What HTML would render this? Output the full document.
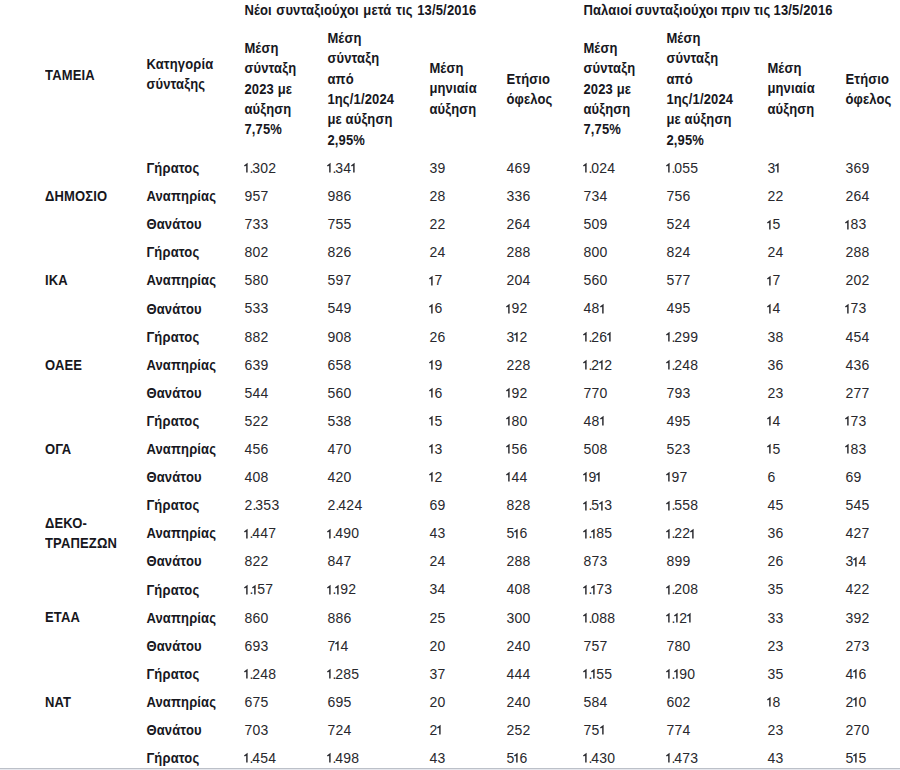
<!DOCTYPE html>
<html><head><meta charset="utf-8">
<style>
html,body{margin:0;padding:0;background:#fff;}
body{width:900px;height:770px;position:relative;overflow:hidden;font-family:"Liberation Sans",sans-serif;font-size:13px;line-height:20px;}
.h,.n{position:absolute;white-space:nowrap;}
.h{font-weight:bold;color:#17171d;transform:scaleY(1.07);transform-origin:0 0;letter-spacing:0.15px;}
.n{color:#28282d;font-size:14px;letter-spacing:0.3px;}
.n i{font-style:normal;letter-spacing:-1.1px;}
.o{display:inline-block;vertical-align:baseline;overflow:visible;}
.bl{position:absolute;left:0;top:768px;width:900px;height:1px;background:#bcc0c8;}
.bl2{position:absolute;left:0;top:769px;width:900px;height:1px;background:#e6e8ee;}
</style></head><body>
<div class="h" style="left:244.4px;top:0.04px;line-height:19.065px;word-spacing:0.8px">Νέοι συνταξιούχοι μετά τις 13/5/2016</div>
<div class="h" style="left:583.4px;top:0.04px;line-height:19.065px;word-spacing:-0.5px">Παλαιοί συνταξιούχοι πριν τις 13/5/2016</div>
<div class="h" style="left:45px;top:64.94px;line-height:19.065px;">ΤΑΜΕΙΑ</div>
<div class="h" style="left:146.4px;top:54.53px;line-height:18.692px;">Κατηγορία<br>σύνταξης</div>
<div class="h" style="left:244.4px;top:37.79px;line-height:19.065px;">Μέση<br>σύνταξη<br>2023 με<br>αύξηση<br>7,75%</div>
<div class="h" style="left:327.4px;top:27.98px;line-height:19.065px;">Μέση<br>σύνταξη<br>από<br>1ης/1/2024<br>με αύξηση<br>2,95%</div>
<div class="h" style="left:429.4px;top:58.24px;line-height:19.065px;">Μέση<br>μηνιαία<br>αύξηση</div>
<div class="h" style="left:506.4px;top:68.88px;line-height:19.065px;">Ετήσιο<br>όφελος</div>
<div class="h" style="left:583.4px;top:37.79px;line-height:19.065px;">Μέση<br>σύνταξη<br>2023 με<br>αύξηση<br>7,75%</div>
<div class="h" style="left:666.4px;top:27.98px;line-height:19.065px;">Μέση<br>σύνταξη<br>από<br>1ης/1/2024<br>με αύξηση<br>2,95%</div>
<div class="h" style="left:767.4px;top:58.24px;line-height:19.065px;">Μέση<br>μηνιαία<br>αύξηση</div>
<div class="h" style="left:845.4px;top:68.88px;line-height:19.065px;">Ετήσιο<br>όφελος</div>
<div class="h" style="left:45px;top:185.94px;line-height:19.065px;">ΔΗΜΟΣΙΟ</div>
<div class="h" style="left:146.4px;top:158.03px;line-height:19.065px;">Γήρατος</div>
<div class="n" style="left:244.4px;top:157.90px"><svg class="o" width="5" height="9.6" viewBox="0 0 5 9.6"><path d="M0.4 3.0L2.9 1.1V9.6" fill="none" stroke="currentColor" stroke-width="1.45"/></svg><i>.</i>302</div>
<div class="n" style="left:327.4px;top:157.90px"><svg class="o" width="5" height="9.6" viewBox="0 0 5 9.6"><path d="M0.4 3.0L2.9 1.1V9.6" fill="none" stroke="currentColor" stroke-width="1.45"/></svg><i>.</i>34<svg class="o" width="5" height="9.6" viewBox="0 0 5 9.6"><path d="M0.4 3.0L2.9 1.1V9.6" fill="none" stroke="currentColor" stroke-width="1.45"/></svg></div>
<div class="n" style="left:429.4px;top:157.90px">39</div>
<div class="n" style="left:506.4px;top:157.90px">469</div>
<div class="n" style="left:583.4px;top:157.90px"><svg class="o" width="5" height="9.6" viewBox="0 0 5 9.6"><path d="M0.4 3.0L2.9 1.1V9.6" fill="none" stroke="currentColor" stroke-width="1.45"/></svg><i>.</i>024</div>
<div class="n" style="left:666.4px;top:157.90px"><svg class="o" width="5" height="9.6" viewBox="0 0 5 9.6"><path d="M0.4 3.0L2.9 1.1V9.6" fill="none" stroke="currentColor" stroke-width="1.45"/></svg><i>.</i>055</div>
<div class="n" style="left:767.4px;top:157.90px">3<svg class="o" width="5" height="9.6" viewBox="0 0 5 9.6"><path d="M0.4 3.0L2.9 1.1V9.6" fill="none" stroke="currentColor" stroke-width="1.45"/></svg></div>
<div class="n" style="left:845.4px;top:157.90px">369</div>
<div class="h" style="left:146.4px;top:186.13px;line-height:19.065px;">Αναπηρίας</div>
<div class="n" style="left:244.4px;top:186.00px">957</div>
<div class="n" style="left:327.4px;top:186.00px">986</div>
<div class="n" style="left:429.4px;top:186.00px">28</div>
<div class="n" style="left:506.4px;top:186.00px">336</div>
<div class="n" style="left:583.4px;top:186.00px">734</div>
<div class="n" style="left:666.4px;top:186.00px">756</div>
<div class="n" style="left:767.4px;top:186.00px">22</div>
<div class="n" style="left:845.4px;top:186.00px">264</div>
<div class="h" style="left:146.4px;top:214.23px;line-height:19.065px;">Θανάτου</div>
<div class="n" style="left:244.4px;top:214.10px">733</div>
<div class="n" style="left:327.4px;top:214.10px">755</div>
<div class="n" style="left:429.4px;top:214.10px">22</div>
<div class="n" style="left:506.4px;top:214.10px">264</div>
<div class="n" style="left:583.4px;top:214.10px">509</div>
<div class="n" style="left:666.4px;top:214.10px">524</div>
<div class="n" style="left:767.4px;top:214.10px"><svg class="o" width="5" height="9.6" viewBox="0 0 5 9.6"><path d="M0.4 3.0L2.9 1.1V9.6" fill="none" stroke="currentColor" stroke-width="1.45"/></svg>5</div>
<div class="n" style="left:845.4px;top:214.10px"><svg class="o" width="5" height="9.6" viewBox="0 0 5 9.6"><path d="M0.4 3.0L2.9 1.1V9.6" fill="none" stroke="currentColor" stroke-width="1.45"/></svg>83</div>
<div class="h" style="left:45px;top:270.24px;line-height:19.065px;">ΙΚΑ</div>
<div class="h" style="left:146.4px;top:242.34px;line-height:19.065px;">Γήρατος</div>
<div class="n" style="left:244.4px;top:242.20px">802</div>
<div class="n" style="left:327.4px;top:242.20px">826</div>
<div class="n" style="left:429.4px;top:242.20px">24</div>
<div class="n" style="left:506.4px;top:242.20px">288</div>
<div class="n" style="left:583.4px;top:242.20px">800</div>
<div class="n" style="left:666.4px;top:242.20px">824</div>
<div class="n" style="left:767.4px;top:242.20px">24</div>
<div class="n" style="left:845.4px;top:242.20px">288</div>
<div class="h" style="left:146.4px;top:270.44px;line-height:19.065px;">Αναπηρίας</div>
<div class="n" style="left:244.4px;top:270.30px">580</div>
<div class="n" style="left:327.4px;top:270.30px">597</div>
<div class="n" style="left:429.4px;top:270.30px"><svg class="o" width="5" height="9.6" viewBox="0 0 5 9.6"><path d="M0.4 3.0L2.9 1.1V9.6" fill="none" stroke="currentColor" stroke-width="1.45"/></svg>7</div>
<div class="n" style="left:506.4px;top:270.30px">204</div>
<div class="n" style="left:583.4px;top:270.30px">560</div>
<div class="n" style="left:666.4px;top:270.30px">577</div>
<div class="n" style="left:767.4px;top:270.30px"><svg class="o" width="5" height="9.6" viewBox="0 0 5 9.6"><path d="M0.4 3.0L2.9 1.1V9.6" fill="none" stroke="currentColor" stroke-width="1.45"/></svg>7</div>
<div class="n" style="left:845.4px;top:270.30px">202</div>
<div class="h" style="left:146.4px;top:298.53px;line-height:19.065px;">Θανάτου</div>
<div class="n" style="left:244.4px;top:298.40px">533</div>
<div class="n" style="left:327.4px;top:298.40px">549</div>
<div class="n" style="left:429.4px;top:298.40px"><svg class="o" width="5" height="9.6" viewBox="0 0 5 9.6"><path d="M0.4 3.0L2.9 1.1V9.6" fill="none" stroke="currentColor" stroke-width="1.45"/></svg>6</div>
<div class="n" style="left:506.4px;top:298.40px"><svg class="o" width="5" height="9.6" viewBox="0 0 5 9.6"><path d="M0.4 3.0L2.9 1.1V9.6" fill="none" stroke="currentColor" stroke-width="1.45"/></svg>92</div>
<div class="n" style="left:583.4px;top:298.40px">48<svg class="o" width="5" height="9.6" viewBox="0 0 5 9.6"><path d="M0.4 3.0L2.9 1.1V9.6" fill="none" stroke="currentColor" stroke-width="1.45"/></svg></div>
<div class="n" style="left:666.4px;top:298.40px">495</div>
<div class="n" style="left:767.4px;top:298.40px"><svg class="o" width="5" height="9.6" viewBox="0 0 5 9.6"><path d="M0.4 3.0L2.9 1.1V9.6" fill="none" stroke="currentColor" stroke-width="1.45"/></svg>4</div>
<div class="n" style="left:845.4px;top:298.40px"><svg class="o" width="5" height="9.6" viewBox="0 0 5 9.6"><path d="M0.4 3.0L2.9 1.1V9.6" fill="none" stroke="currentColor" stroke-width="1.45"/></svg>73</div>
<div class="h" style="left:45px;top:354.53px;line-height:19.065px;">ΟΑΕΕ</div>
<div class="h" style="left:146.4px;top:326.63px;line-height:19.065px;">Γήρατος</div>
<div class="n" style="left:244.4px;top:326.50px">882</div>
<div class="n" style="left:327.4px;top:326.50px">908</div>
<div class="n" style="left:429.4px;top:326.50px">26</div>
<div class="n" style="left:506.4px;top:326.50px">3<svg class="o" width="5" height="9.6" viewBox="0 0 5 9.6"><path d="M0.4 3.0L2.9 1.1V9.6" fill="none" stroke="currentColor" stroke-width="1.45"/></svg>2</div>
<div class="n" style="left:583.4px;top:326.50px"><svg class="o" width="5" height="9.6" viewBox="0 0 5 9.6"><path d="M0.4 3.0L2.9 1.1V9.6" fill="none" stroke="currentColor" stroke-width="1.45"/></svg><i>.</i>26<svg class="o" width="5" height="9.6" viewBox="0 0 5 9.6"><path d="M0.4 3.0L2.9 1.1V9.6" fill="none" stroke="currentColor" stroke-width="1.45"/></svg></div>
<div class="n" style="left:666.4px;top:326.50px"><svg class="o" width="5" height="9.6" viewBox="0 0 5 9.6"><path d="M0.4 3.0L2.9 1.1V9.6" fill="none" stroke="currentColor" stroke-width="1.45"/></svg><i>.</i>299</div>
<div class="n" style="left:767.4px;top:326.50px">38</div>
<div class="n" style="left:845.4px;top:326.50px">454</div>
<div class="h" style="left:146.4px;top:354.73px;line-height:19.065px;">Αναπηρίας</div>
<div class="n" style="left:244.4px;top:354.60px">639</div>
<div class="n" style="left:327.4px;top:354.60px">658</div>
<div class="n" style="left:429.4px;top:354.60px"><svg class="o" width="5" height="9.6" viewBox="0 0 5 9.6"><path d="M0.4 3.0L2.9 1.1V9.6" fill="none" stroke="currentColor" stroke-width="1.45"/></svg>9</div>
<div class="n" style="left:506.4px;top:354.60px">228</div>
<div class="n" style="left:583.4px;top:354.60px"><svg class="o" width="5" height="9.6" viewBox="0 0 5 9.6"><path d="M0.4 3.0L2.9 1.1V9.6" fill="none" stroke="currentColor" stroke-width="1.45"/></svg><i>.</i>2<svg class="o" width="5" height="9.6" viewBox="0 0 5 9.6"><path d="M0.4 3.0L2.9 1.1V9.6" fill="none" stroke="currentColor" stroke-width="1.45"/></svg>2</div>
<div class="n" style="left:666.4px;top:354.60px"><svg class="o" width="5" height="9.6" viewBox="0 0 5 9.6"><path d="M0.4 3.0L2.9 1.1V9.6" fill="none" stroke="currentColor" stroke-width="1.45"/></svg><i>.</i>248</div>
<div class="n" style="left:767.4px;top:354.60px">36</div>
<div class="n" style="left:845.4px;top:354.60px">436</div>
<div class="h" style="left:146.4px;top:382.83px;line-height:19.065px;">Θανάτου</div>
<div class="n" style="left:244.4px;top:382.70px">544</div>
<div class="n" style="left:327.4px;top:382.70px">560</div>
<div class="n" style="left:429.4px;top:382.70px"><svg class="o" width="5" height="9.6" viewBox="0 0 5 9.6"><path d="M0.4 3.0L2.9 1.1V9.6" fill="none" stroke="currentColor" stroke-width="1.45"/></svg>6</div>
<div class="n" style="left:506.4px;top:382.70px"><svg class="o" width="5" height="9.6" viewBox="0 0 5 9.6"><path d="M0.4 3.0L2.9 1.1V9.6" fill="none" stroke="currentColor" stroke-width="1.45"/></svg>92</div>
<div class="n" style="left:583.4px;top:382.70px">770</div>
<div class="n" style="left:666.4px;top:382.70px">793</div>
<div class="n" style="left:767.4px;top:382.70px">23</div>
<div class="n" style="left:845.4px;top:382.70px">277</div>
<div class="h" style="left:45px;top:438.83px;line-height:19.065px;">ΟΓΑ</div>
<div class="h" style="left:146.4px;top:410.94px;line-height:19.065px;">Γήρατος</div>
<div class="n" style="left:244.4px;top:410.80px">522</div>
<div class="n" style="left:327.4px;top:410.80px">538</div>
<div class="n" style="left:429.4px;top:410.80px"><svg class="o" width="5" height="9.6" viewBox="0 0 5 9.6"><path d="M0.4 3.0L2.9 1.1V9.6" fill="none" stroke="currentColor" stroke-width="1.45"/></svg>5</div>
<div class="n" style="left:506.4px;top:410.80px"><svg class="o" width="5" height="9.6" viewBox="0 0 5 9.6"><path d="M0.4 3.0L2.9 1.1V9.6" fill="none" stroke="currentColor" stroke-width="1.45"/></svg>80</div>
<div class="n" style="left:583.4px;top:410.80px">48<svg class="o" width="5" height="9.6" viewBox="0 0 5 9.6"><path d="M0.4 3.0L2.9 1.1V9.6" fill="none" stroke="currentColor" stroke-width="1.45"/></svg></div>
<div class="n" style="left:666.4px;top:410.80px">495</div>
<div class="n" style="left:767.4px;top:410.80px"><svg class="o" width="5" height="9.6" viewBox="0 0 5 9.6"><path d="M0.4 3.0L2.9 1.1V9.6" fill="none" stroke="currentColor" stroke-width="1.45"/></svg>4</div>
<div class="n" style="left:845.4px;top:410.80px"><svg class="o" width="5" height="9.6" viewBox="0 0 5 9.6"><path d="M0.4 3.0L2.9 1.1V9.6" fill="none" stroke="currentColor" stroke-width="1.45"/></svg>73</div>
<div class="h" style="left:146.4px;top:439.03px;line-height:19.065px;">Αναπηρίας</div>
<div class="n" style="left:244.4px;top:438.90px">456</div>
<div class="n" style="left:327.4px;top:438.90px">470</div>
<div class="n" style="left:429.4px;top:438.90px"><svg class="o" width="5" height="9.6" viewBox="0 0 5 9.6"><path d="M0.4 3.0L2.9 1.1V9.6" fill="none" stroke="currentColor" stroke-width="1.45"/></svg>3</div>
<div class="n" style="left:506.4px;top:438.90px"><svg class="o" width="5" height="9.6" viewBox="0 0 5 9.6"><path d="M0.4 3.0L2.9 1.1V9.6" fill="none" stroke="currentColor" stroke-width="1.45"/></svg>56</div>
<div class="n" style="left:583.4px;top:438.90px">508</div>
<div class="n" style="left:666.4px;top:438.90px">523</div>
<div class="n" style="left:767.4px;top:438.90px"><svg class="o" width="5" height="9.6" viewBox="0 0 5 9.6"><path d="M0.4 3.0L2.9 1.1V9.6" fill="none" stroke="currentColor" stroke-width="1.45"/></svg>5</div>
<div class="n" style="left:845.4px;top:438.90px"><svg class="o" width="5" height="9.6" viewBox="0 0 5 9.6"><path d="M0.4 3.0L2.9 1.1V9.6" fill="none" stroke="currentColor" stroke-width="1.45"/></svg>83</div>
<div class="h" style="left:146.4px;top:467.13px;line-height:19.065px;">Θανάτου</div>
<div class="n" style="left:244.4px;top:467.00px">408</div>
<div class="n" style="left:327.4px;top:467.00px">420</div>
<div class="n" style="left:429.4px;top:467.00px"><svg class="o" width="5" height="9.6" viewBox="0 0 5 9.6"><path d="M0.4 3.0L2.9 1.1V9.6" fill="none" stroke="currentColor" stroke-width="1.45"/></svg>2</div>
<div class="n" style="left:506.4px;top:467.00px"><svg class="o" width="5" height="9.6" viewBox="0 0 5 9.6"><path d="M0.4 3.0L2.9 1.1V9.6" fill="none" stroke="currentColor" stroke-width="1.45"/></svg>44</div>
<div class="n" style="left:583.4px;top:467.00px"><svg class="o" width="5" height="9.6" viewBox="0 0 5 9.6"><path d="M0.4 3.0L2.9 1.1V9.6" fill="none" stroke="currentColor" stroke-width="1.45"/></svg>9<svg class="o" width="5" height="9.6" viewBox="0 0 5 9.6"><path d="M0.4 3.0L2.9 1.1V9.6" fill="none" stroke="currentColor" stroke-width="1.45"/></svg></div>
<div class="n" style="left:666.4px;top:467.00px"><svg class="o" width="5" height="9.6" viewBox="0 0 5 9.6"><path d="M0.4 3.0L2.9 1.1V9.6" fill="none" stroke="currentColor" stroke-width="1.45"/></svg>97</div>
<div class="n" style="left:767.4px;top:467.00px">6</div>
<div class="n" style="left:845.4px;top:467.00px">69</div>
<div class="h" style="left:45px;top:512.53px;line-height:19.159px;">ΔΕΚΟ-<br>ΤΡΑΠΕΖΩΝ</div>
<div class="h" style="left:146.4px;top:495.24px;line-height:19.065px;">Γήρατος</div>
<div class="n" style="left:244.4px;top:495.10px">2<i>.</i>353</div>
<div class="n" style="left:327.4px;top:495.10px">2<i>.</i>424</div>
<div class="n" style="left:429.4px;top:495.10px">69</div>
<div class="n" style="left:506.4px;top:495.10px">828</div>
<div class="n" style="left:583.4px;top:495.10px"><svg class="o" width="5" height="9.6" viewBox="0 0 5 9.6"><path d="M0.4 3.0L2.9 1.1V9.6" fill="none" stroke="currentColor" stroke-width="1.45"/></svg><i>.</i>5<svg class="o" width="5" height="9.6" viewBox="0 0 5 9.6"><path d="M0.4 3.0L2.9 1.1V9.6" fill="none" stroke="currentColor" stroke-width="1.45"/></svg>3</div>
<div class="n" style="left:666.4px;top:495.10px"><svg class="o" width="5" height="9.6" viewBox="0 0 5 9.6"><path d="M0.4 3.0L2.9 1.1V9.6" fill="none" stroke="currentColor" stroke-width="1.45"/></svg><i>.</i>558</div>
<div class="n" style="left:767.4px;top:495.10px">45</div>
<div class="n" style="left:845.4px;top:495.10px">545</div>
<div class="h" style="left:146.4px;top:523.34px;line-height:19.065px;">Αναπηρίας</div>
<div class="n" style="left:244.4px;top:523.20px"><svg class="o" width="5" height="9.6" viewBox="0 0 5 9.6"><path d="M0.4 3.0L2.9 1.1V9.6" fill="none" stroke="currentColor" stroke-width="1.45"/></svg><i>.</i>447</div>
<div class="n" style="left:327.4px;top:523.20px"><svg class="o" width="5" height="9.6" viewBox="0 0 5 9.6"><path d="M0.4 3.0L2.9 1.1V9.6" fill="none" stroke="currentColor" stroke-width="1.45"/></svg><i>.</i>490</div>
<div class="n" style="left:429.4px;top:523.20px">43</div>
<div class="n" style="left:506.4px;top:523.20px">5<svg class="o" width="5" height="9.6" viewBox="0 0 5 9.6"><path d="M0.4 3.0L2.9 1.1V9.6" fill="none" stroke="currentColor" stroke-width="1.45"/></svg>6</div>
<div class="n" style="left:583.4px;top:523.20px"><svg class="o" width="5" height="9.6" viewBox="0 0 5 9.6"><path d="M0.4 3.0L2.9 1.1V9.6" fill="none" stroke="currentColor" stroke-width="1.45"/></svg><i>.</i><svg class="o" width="5" height="9.6" viewBox="0 0 5 9.6"><path d="M0.4 3.0L2.9 1.1V9.6" fill="none" stroke="currentColor" stroke-width="1.45"/></svg>85</div>
<div class="n" style="left:666.4px;top:523.20px"><svg class="o" width="5" height="9.6" viewBox="0 0 5 9.6"><path d="M0.4 3.0L2.9 1.1V9.6" fill="none" stroke="currentColor" stroke-width="1.45"/></svg><i>.</i>22<svg class="o" width="5" height="9.6" viewBox="0 0 5 9.6"><path d="M0.4 3.0L2.9 1.1V9.6" fill="none" stroke="currentColor" stroke-width="1.45"/></svg></div>
<div class="n" style="left:767.4px;top:523.20px">36</div>
<div class="n" style="left:845.4px;top:523.20px">427</div>
<div class="h" style="left:146.4px;top:551.44px;line-height:19.065px;">Θανάτου</div>
<div class="n" style="left:244.4px;top:551.30px">822</div>
<div class="n" style="left:327.4px;top:551.30px">847</div>
<div class="n" style="left:429.4px;top:551.30px">24</div>
<div class="n" style="left:506.4px;top:551.30px">288</div>
<div class="n" style="left:583.4px;top:551.30px">873</div>
<div class="n" style="left:666.4px;top:551.30px">899</div>
<div class="n" style="left:767.4px;top:551.30px">26</div>
<div class="n" style="left:845.4px;top:551.30px">3<svg class="o" width="5" height="9.6" viewBox="0 0 5 9.6"><path d="M0.4 3.0L2.9 1.1V9.6" fill="none" stroke="currentColor" stroke-width="1.45"/></svg>4</div>
<div class="h" style="left:45px;top:607.43px;line-height:19.065px;">ΕΤΑΑ</div>
<div class="h" style="left:146.4px;top:579.54px;line-height:19.065px;">Γήρατος</div>
<div class="n" style="left:244.4px;top:579.40px"><svg class="o" width="5" height="9.6" viewBox="0 0 5 9.6"><path d="M0.4 3.0L2.9 1.1V9.6" fill="none" stroke="currentColor" stroke-width="1.45"/></svg><i>.</i><svg class="o" width="5" height="9.6" viewBox="0 0 5 9.6"><path d="M0.4 3.0L2.9 1.1V9.6" fill="none" stroke="currentColor" stroke-width="1.45"/></svg>57</div>
<div class="n" style="left:327.4px;top:579.40px"><svg class="o" width="5" height="9.6" viewBox="0 0 5 9.6"><path d="M0.4 3.0L2.9 1.1V9.6" fill="none" stroke="currentColor" stroke-width="1.45"/></svg><i>.</i><svg class="o" width="5" height="9.6" viewBox="0 0 5 9.6"><path d="M0.4 3.0L2.9 1.1V9.6" fill="none" stroke="currentColor" stroke-width="1.45"/></svg>92</div>
<div class="n" style="left:429.4px;top:579.40px">34</div>
<div class="n" style="left:506.4px;top:579.40px">408</div>
<div class="n" style="left:583.4px;top:579.40px"><svg class="o" width="5" height="9.6" viewBox="0 0 5 9.6"><path d="M0.4 3.0L2.9 1.1V9.6" fill="none" stroke="currentColor" stroke-width="1.45"/></svg><i>.</i><svg class="o" width="5" height="9.6" viewBox="0 0 5 9.6"><path d="M0.4 3.0L2.9 1.1V9.6" fill="none" stroke="currentColor" stroke-width="1.45"/></svg>73</div>
<div class="n" style="left:666.4px;top:579.40px"><svg class="o" width="5" height="9.6" viewBox="0 0 5 9.6"><path d="M0.4 3.0L2.9 1.1V9.6" fill="none" stroke="currentColor" stroke-width="1.45"/></svg><i>.</i>208</div>
<div class="n" style="left:767.4px;top:579.40px">35</div>
<div class="n" style="left:845.4px;top:579.40px">422</div>
<div class="h" style="left:146.4px;top:607.63px;line-height:19.065px;">Αναπηρίας</div>
<div class="n" style="left:244.4px;top:607.50px">860</div>
<div class="n" style="left:327.4px;top:607.50px">886</div>
<div class="n" style="left:429.4px;top:607.50px">25</div>
<div class="n" style="left:506.4px;top:607.50px">300</div>
<div class="n" style="left:583.4px;top:607.50px"><svg class="o" width="5" height="9.6" viewBox="0 0 5 9.6"><path d="M0.4 3.0L2.9 1.1V9.6" fill="none" stroke="currentColor" stroke-width="1.45"/></svg><i>.</i>088</div>
<div class="n" style="left:666.4px;top:607.50px"><svg class="o" width="5" height="9.6" viewBox="0 0 5 9.6"><path d="M0.4 3.0L2.9 1.1V9.6" fill="none" stroke="currentColor" stroke-width="1.45"/></svg><i>.</i><svg class="o" width="5" height="9.6" viewBox="0 0 5 9.6"><path d="M0.4 3.0L2.9 1.1V9.6" fill="none" stroke="currentColor" stroke-width="1.45"/></svg>2<svg class="o" width="5" height="9.6" viewBox="0 0 5 9.6"><path d="M0.4 3.0L2.9 1.1V9.6" fill="none" stroke="currentColor" stroke-width="1.45"/></svg></div>
<div class="n" style="left:767.4px;top:607.50px">33</div>
<div class="n" style="left:845.4px;top:607.50px">392</div>
<div class="h" style="left:146.4px;top:635.74px;line-height:19.065px;">Θανάτου</div>
<div class="n" style="left:244.4px;top:635.60px">693</div>
<div class="n" style="left:327.4px;top:635.60px">7<svg class="o" width="5" height="9.6" viewBox="0 0 5 9.6"><path d="M0.4 3.0L2.9 1.1V9.6" fill="none" stroke="currentColor" stroke-width="1.45"/></svg>4</div>
<div class="n" style="left:429.4px;top:635.60px">20</div>
<div class="n" style="left:506.4px;top:635.60px">240</div>
<div class="n" style="left:583.4px;top:635.60px">757</div>
<div class="n" style="left:666.4px;top:635.60px">780</div>
<div class="n" style="left:767.4px;top:635.60px">23</div>
<div class="n" style="left:845.4px;top:635.60px">273</div>
<div class="h" style="left:45px;top:691.73px;line-height:19.065px;">ΝΑΤ</div>
<div class="h" style="left:146.4px;top:663.84px;line-height:19.065px;">Γήρατος</div>
<div class="n" style="left:244.4px;top:663.70px"><svg class="o" width="5" height="9.6" viewBox="0 0 5 9.6"><path d="M0.4 3.0L2.9 1.1V9.6" fill="none" stroke="currentColor" stroke-width="1.45"/></svg><i>.</i>248</div>
<div class="n" style="left:327.4px;top:663.70px"><svg class="o" width="5" height="9.6" viewBox="0 0 5 9.6"><path d="M0.4 3.0L2.9 1.1V9.6" fill="none" stroke="currentColor" stroke-width="1.45"/></svg><i>.</i>285</div>
<div class="n" style="left:429.4px;top:663.70px">37</div>
<div class="n" style="left:506.4px;top:663.70px">444</div>
<div class="n" style="left:583.4px;top:663.70px"><svg class="o" width="5" height="9.6" viewBox="0 0 5 9.6"><path d="M0.4 3.0L2.9 1.1V9.6" fill="none" stroke="currentColor" stroke-width="1.45"/></svg><i>.</i><svg class="o" width="5" height="9.6" viewBox="0 0 5 9.6"><path d="M0.4 3.0L2.9 1.1V9.6" fill="none" stroke="currentColor" stroke-width="1.45"/></svg>55</div>
<div class="n" style="left:666.4px;top:663.70px"><svg class="o" width="5" height="9.6" viewBox="0 0 5 9.6"><path d="M0.4 3.0L2.9 1.1V9.6" fill="none" stroke="currentColor" stroke-width="1.45"/></svg><i>.</i><svg class="o" width="5" height="9.6" viewBox="0 0 5 9.6"><path d="M0.4 3.0L2.9 1.1V9.6" fill="none" stroke="currentColor" stroke-width="1.45"/></svg>90</div>
<div class="n" style="left:767.4px;top:663.70px">35</div>
<div class="n" style="left:845.4px;top:663.70px">4<svg class="o" width="5" height="9.6" viewBox="0 0 5 9.6"><path d="M0.4 3.0L2.9 1.1V9.6" fill="none" stroke="currentColor" stroke-width="1.45"/></svg>6</div>
<div class="h" style="left:146.4px;top:691.93px;line-height:19.065px;">Αναπηρίας</div>
<div class="n" style="left:244.4px;top:691.80px">675</div>
<div class="n" style="left:327.4px;top:691.80px">695</div>
<div class="n" style="left:429.4px;top:691.80px">20</div>
<div class="n" style="left:506.4px;top:691.80px">240</div>
<div class="n" style="left:583.4px;top:691.80px">584</div>
<div class="n" style="left:666.4px;top:691.80px">602</div>
<div class="n" style="left:767.4px;top:691.80px"><svg class="o" width="5" height="9.6" viewBox="0 0 5 9.6"><path d="M0.4 3.0L2.9 1.1V9.6" fill="none" stroke="currentColor" stroke-width="1.45"/></svg>8</div>
<div class="n" style="left:845.4px;top:691.80px">2<svg class="o" width="5" height="9.6" viewBox="0 0 5 9.6"><path d="M0.4 3.0L2.9 1.1V9.6" fill="none" stroke="currentColor" stroke-width="1.45"/></svg>0</div>
<div class="h" style="left:146.4px;top:720.04px;line-height:19.065px;">Θανάτου</div>
<div class="n" style="left:244.4px;top:719.90px">703</div>
<div class="n" style="left:327.4px;top:719.90px">724</div>
<div class="n" style="left:429.4px;top:719.90px">2<svg class="o" width="5" height="9.6" viewBox="0 0 5 9.6"><path d="M0.4 3.0L2.9 1.1V9.6" fill="none" stroke="currentColor" stroke-width="1.45"/></svg></div>
<div class="n" style="left:506.4px;top:719.90px">252</div>
<div class="n" style="left:583.4px;top:719.90px">75<svg class="o" width="5" height="9.6" viewBox="0 0 5 9.6"><path d="M0.4 3.0L2.9 1.1V9.6" fill="none" stroke="currentColor" stroke-width="1.45"/></svg></div>
<div class="n" style="left:666.4px;top:719.90px">774</div>
<div class="n" style="left:767.4px;top:719.90px">23</div>
<div class="n" style="left:845.4px;top:719.90px">270</div>
<div class="h" style="left:146.4px;top:748.13px;line-height:19.065px;">Γήρατος</div>
<div class="n" style="left:244.4px;top:748.00px"><svg class="o" width="5" height="9.6" viewBox="0 0 5 9.6"><path d="M0.4 3.0L2.9 1.1V9.6" fill="none" stroke="currentColor" stroke-width="1.45"/></svg><i>.</i>454</div>
<div class="n" style="left:327.4px;top:748.00px"><svg class="o" width="5" height="9.6" viewBox="0 0 5 9.6"><path d="M0.4 3.0L2.9 1.1V9.6" fill="none" stroke="currentColor" stroke-width="1.45"/></svg><i>.</i>498</div>
<div class="n" style="left:429.4px;top:748.00px">43</div>
<div class="n" style="left:506.4px;top:748.00px">5<svg class="o" width="5" height="9.6" viewBox="0 0 5 9.6"><path d="M0.4 3.0L2.9 1.1V9.6" fill="none" stroke="currentColor" stroke-width="1.45"/></svg>6</div>
<div class="n" style="left:583.4px;top:748.00px"><svg class="o" width="5" height="9.6" viewBox="0 0 5 9.6"><path d="M0.4 3.0L2.9 1.1V9.6" fill="none" stroke="currentColor" stroke-width="1.45"/></svg><i>.</i>430</div>
<div class="n" style="left:666.4px;top:748.00px"><svg class="o" width="5" height="9.6" viewBox="0 0 5 9.6"><path d="M0.4 3.0L2.9 1.1V9.6" fill="none" stroke="currentColor" stroke-width="1.45"/></svg><i>.</i>473</div>
<div class="n" style="left:767.4px;top:748.00px">43</div>
<div class="n" style="left:845.4px;top:748.00px">5<svg class="o" width="5" height="9.6" viewBox="0 0 5 9.6"><path d="M0.4 3.0L2.9 1.1V9.6" fill="none" stroke="currentColor" stroke-width="1.45"/></svg>5</div>
<div class="bl"></div><div class="bl2"></div>
</body></html>
